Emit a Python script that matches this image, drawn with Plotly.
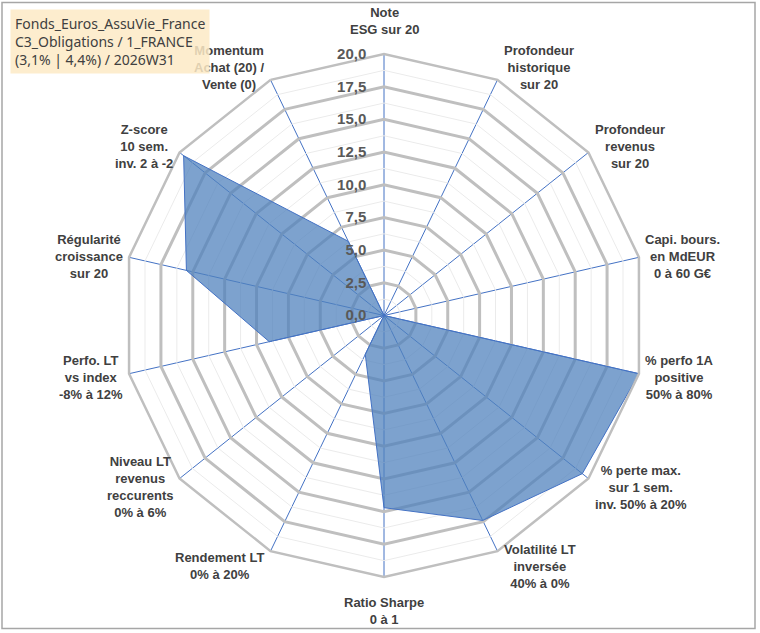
import math

import plotly.graph_objects as go

categories = [
    'Note<br>ESG sur 20',
    'Profondeur<br>historique<br>sur 20',
    'Profondeur<br>revenus<br>sur 20',
    'Capi. bours.<br>en MdEUR<br>0 à 60 G€',
    '% perfo 1A<br>positive<br>50% à 80%',
    '% perte max.<br>sur 1 sem.<br>inv. 50% à 20%',
    'Volatilité LT<br>inversée<br>40% à 0%',
    'Ratio Sharpe<br>0 à 1',
    'Rendement LT<br>0% à 20%',
    'Niveau LT<br>revenus<br>reccurents<br>0% à 6%',
    'Perfo. LT<br>vs index<br>-8% à 12%',
    'Régularité<br>croissance<br>sur 20',
    'Z-score<br>10 sem.<br>inv. 2 à -2',
    'Momentum<br>Achat (20) /<br>Vente (0)',
]
scores = [0, 0, 0, 0, 20, 19.4, 17.4, 14.7, 3.3, 0, 9.0, 15.5, 19.6, 6.3]

title_lines = ['Fonds_Euros_AssuVie_France', 'C3_Obligations / 1_FRANCE', '(3,1% | 4,4%) / 2026W31']

# figure geometry (px) -> paper coords
W, H = 760, 633
ML, MR, MT, MB = 8, 0, 53.5, 55.5
PW, PH = W - ML - MR, H - MT - MB
CX, CY = ML + PW / 2, MT + PH / 2
RAD = min(PW, PH) / 2


def px(x):
    return (x - ML) / PW


def py(y):
    return (H - MB - y) / PH


# faint minor rings between the major grid lines
minor_r, minor_t = [], []
for k in range(8):
    level = 1.25 + 2.5 * k
    minor_r += [level] * (len(categories) + 1) + [None]
    minor_t += categories + [categories[0], None]

traces = [
    go.Scatterpolar(
        r=minor_r, theta=minor_t, mode='lines',
        line=dict(color='#EBEBEB', width=1),
        hoverinfo='skip', showlegend=False, connectgaps=False,
    ),
    go.Scatterpolar(
        r=scores + [scores[0]], theta=categories + [categories[0]],
        mode='lines', fill='toself',
        fillcolor='rgba(79,129,189,0.74)',
        line=dict(color='#4472C4', width=1),
        showlegend=False,
    ),
]

# category labels, centred text placed beside each spoke end (Excel style)
labels = []
n = len(categories)
for i, cat in enumerate(categories):
    a = math.radians(360 * i / n)
    s, c = math.sin(a), math.cos(a)
    vx, vy = CX + RAD * s, CY - RAD * c
    lab = dict(xref='paper', yref='paper', text=cat, showarrow=False, align='center',
               font=dict(size=13, weight='bold', color='#404040'))
    if abs(s) < 0.1:
        lab.update(x=px(vx), xanchor='center')
        if c > 0:
            lab.update(y=py(vy - 15), yanchor='bottom')
        else:
            lab.update(y=py(vy + 16), yanchor='top')
    else:
        dy = -15 * c * abs(c) + (3 if c < 0 else 0)
        lab.update(x=px(vx + (4 if s > 0 else -4)),
                   xanchor='left' if s > 0 else 'right',
                   y=py(vy + dy), yanchor='middle')
    labels.append(lab)

fig = go.Figure(data=traces)

fig.update_layout(
    width=W, height=H,
    margin=dict(l=ML, r=MR, t=MT, b=MB),
    paper_bgcolor='white',
    separators=', ',
    font=dict(family='Liberation Sans, Arial', color='#404040'),
    polar=dict(
        bgcolor='white',
        gridshape='linear',
        angularaxis=dict(
            direction='clockwise', rotation=90,
            categoryorder='array', categoryarray=categories,
            showline=True, linecolor='#BFBFBF', linewidth=2.5,
            gridcolor='#4472C4', gridwidth=1,
            ticks='', showticklabels=False,
        ),
        radialaxis=dict(
            range=[0, 20], tick0=0, dtick=2.5, tickformat='.1f',
            angle=90, side='counterclockwise', tickangle=90,
            showline=False,
            ticks='outside', ticklen=12, tickcolor='rgba(0,0,0,0)',
            gridcolor='#BFBFBF', gridwidth=2.5,
            tickfont=dict(size=15, weight='bold', color='#595959'),
        ),
    ),
    annotations=labels + [
        dict(
            xref='paper', yref='paper', x=px(10), y=py(8),
            xanchor='left', yanchor='top', align='left',
            text='<br>'.join(title_lines), showarrow=False,
            font=dict(family='Noto Sans', size=14, color='#404040'),
            bgcolor='rgba(253,234,198,0.85)', borderpad=4,
        )
    ],
    shapes=[
        dict(
            type='rect', xref='paper', yref='paper',
            x0=px(2), x1=px(755), y0=py(629), y1=py(2),
            line=dict(color='#A6A6A6', width=1.5),
        )
    ],
)

fig.write_html('out.html', config={'displayModeBar': False},
               post_script="document.body.style.margin='0';")
